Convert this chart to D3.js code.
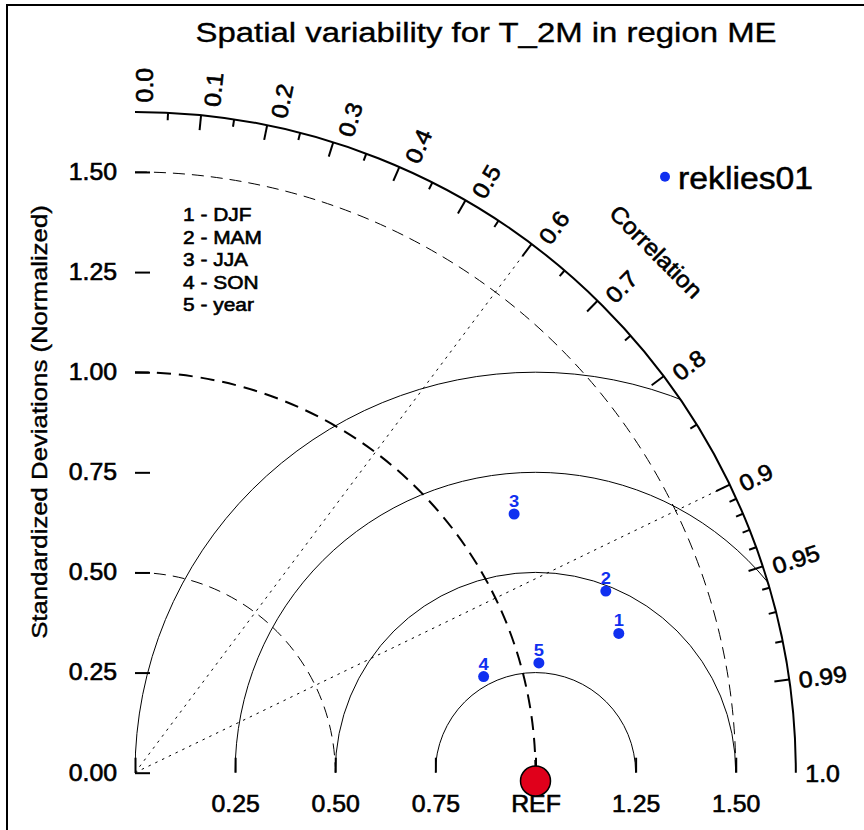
<!DOCTYPE html>
<html>
<head>
<meta charset="utf-8">
<script src="https://cdn.jsdelivr.net/npm/d3@7"></script>
<style>
  body { margin: 0; background: #fff; }
  svg { display: block; }
  text { font-family: "Liberation Sans", Arial, Helvetica, sans-serif; }
</style>
</head>
<body>
<svg id="chart" width="864" height="830"></svg>
<script>
// Seasonal statistics (normalized standard deviation and correlation vs. reference)
const seasons   = ["DJF", "MAM", "JJA", "SON", "year"];
const stdNorm   = [1.257, 1.260, 1.146, 0.903, 1.045];
const corrVals  = [0.961, 0.933, 0.826, 0.964, 0.965];
const modelName = "reklies01";

// Axis / grid definitions
const stdMax      = 1.65;
const stdTicks    = [0, 0.25, 0.5, 0.75, 1.0, 1.25, 1.5];
const corrMajor   = [0.1, 0.2, 0.3, 0.4, 0.5, 0.6, 0.7, 0.8, 0.9, 0.95, 0.99];
const corrMinor   = [0.05, 0.15, 0.25, 0.35, 0.45, 0.55, 0.65, 0.75, 0.85,
                     0.91, 0.92, 0.93, 0.94, 0.96, 0.97, 0.98];
const corrLabels  = [0.0, 0.1, 0.2, 0.3, 0.4, 0.5, 0.6, 0.7, 0.8, 0.9, 0.95, 0.99, 1.0];
const rmsRadii    = [0.25, 0.5, 0.75, 1.0];
const stdArcRadii = [0.5, 1.0, 1.5];
const corrRays    = [0.6, 0.9];
const refStd      = 1.0;

const svg = d3.select("#chart");
const W = 864, H = 830;

const ox = 135, oy = 772.7, unit = 400.5;
const x = d3.scaleLinear().domain([0, stdMax]).range([ox, ox + stdMax * unit]);
const y = d3.scaleLinear().domain([0, stdMax]).range([oy, oy - stdMax * unit]);
const R = x(stdMax) - x(0);

const blue = "#1030f0";

// frame
svg.append("path")
  .attr("d", `M7,${H} V5 H${W}`)
  .attr("fill", "none").attr("stroke", "#000").attr("stroke-width", 2);

function label(g, px, py, str, o) {
  o = o || {};
  const fill = o.fill || "#000";
  const t = g.append("text")
    .attr("transform", `translate(${px},${py}) rotate(${o.rotate || 0}) scale(${o.sx || 1},1)`)
    .attr("text-anchor", o.anchor || "start")
    .attr("font-size", o.size || 23)
    .attr("font-weight", o.weight || "normal")
    .attr("fill", fill)
    .attr("stroke", fill).attr("stroke-width", o.sw === undefined ? 0.6 : o.sw)
    .text(str);
  if (o.dy !== undefined) t.attr("y", o.dy);
  return t;
}

// title
label(svg, 486, 41.7, "Spatial variability for T_2M in region ME",
      { size: 28, anchor: "middle", sx: 1.176, sw: 0.35 });

const plot = svg.append("g");

// clip to the quarter disc
svg.append("clipPath").attr("id", "quarter")
  .append("path")
  .attr("d", () => {
    const p = d3.path();
    p.moveTo(x(0), y(0));
    p.lineTo(x(stdMax), y(0));
    p.arc(x(0), y(0), R, 0, -Math.PI / 2, true);
    p.closePath();
    return p.toString();
  });

// RMS difference circles around the reference point
const rmsG = plot.append("g").attr("clip-path", "url(#quarter)");
rmsRadii.forEach(r => {
  const p = d3.path();
  p.arc(x(refStd), y(0), x(r) - x(0), -Math.PI, 0, false);
  rmsG.append("path").attr("d", p.toString())
    .attr("fill", "none").attr("stroke", "#000").attr("stroke-width", 1);
});

// standard deviation arcs
stdArcRadii.forEach(r => {
  const p = d3.path();
  p.arc(x(0), y(0), x(r) - x(0), -Math.PI / 2, 0, false);
  const ref = r === refStd;
  plot.append("path").attr("d", p.toString())
    .attr("fill", "none").attr("stroke", "#000")
    .attr("stroke-width", ref ? 2 : 1)
    .attr("stroke-dasharray", ref ? "14,8" : "12,7");
});

// correlation rays
corrRays.forEach(c => {
  const th = Math.acos(c);
  plot.append("line")
    .attr("x1", x(0)).attr("y1", y(0))
    .attr("x2", x(stdMax * Math.cos(th))).attr("y2", y(stdMax * Math.sin(th)))
    .attr("stroke", "#000").attr("stroke-width", 1)
    .attr("stroke-dasharray", "2.5,5");
});

// outer correlation arc
{
  const p = d3.path();
  p.arc(x(0), y(0), R, -Math.PI / 2, 0, false);
  plot.append("path").attr("d", p.toString())
    .attr("fill", "none").attr("stroke", "#000").attr("stroke-width", 2);
}

// correlation ticks
function corrTick(c, len) {
  const th = Math.acos(c);
  const cx = Math.cos(th), sy = Math.sin(th);
  plot.append("line")
    .attr("x1", x(0) + R * cx).attr("y1", y(0) - R * sy)
    .attr("x2", x(0) + (R - len) * cx).attr("y2", y(0) - (R - len) * sy)
    .attr("stroke", "#000").attr("stroke-width", 2);
}
corrMajor.forEach(c => corrTick(c, 15));
corrMinor.forEach(c => corrTick(c, 7.5));

// correlation labels
const corrFmt = c => (c === 0.95 || c === 0.99) ? c.toFixed(2) : c.toFixed(1);
corrLabels.forEach(c => {
  const th = Math.acos(c);
  const rl = R + 9.5;
  const px = x(0) + rl * Math.cos(th), py = y(0) - rl * Math.sin(th);
  label(plot, px, py, corrFmt(c), {
    rotate: -th * 180 / Math.PI, sx: 1.08, size: 23,
    dy: 9 + 9 * Math.sin(th)
  });
});

// "Correlation" caption along the 45° direction
{
  const th = Math.PI / 4, rl = x(1.84) - x(0);
  label(plot, x(0) + rl * Math.cos(th), y(0) - rl * Math.sin(th), "Correlation",
        { rotate: 45, sx: 1.07, size: 23, anchor: "middle", dy: 8 });
}

// standard deviation axes
const yAxis = d3.axisLeft(y).tickValues(stdTicks)
  .tickSizeInner(-15).tickSizeOuter(0).tickPadding(18)
  .tickFormat(d3.format(".2f"));
const xAxis = d3.axisBottom(x).tickValues(stdTicks)
  .tickSizeInner(-15).tickSizeOuter(0).tickPadding(22.5)
  .tickFormat(d => d === 0 ? "" : d === refStd ? "REF" : d.toFixed(2));

function styleAxis(g) {
  g.select(".domain").remove();
  g.selectAll(".tick line").attr("stroke", "#000").attr("stroke-width", 2);
  g.selectAll(".tick text")
    .attr("fill", "#000").attr("font-size", 23)
    .attr("stroke", "#000").attr("stroke-width", 0.6)
    .attr("font-family", "Liberation Sans, Arial, sans-serif")
    .each(function () {
      const t = d3.select(this);
      const tx = +t.attr("x") || 0, ty = +t.attr("y") || 0;
      t.attr("transform", `translate(${tx},${ty}) scale(1.08,1)`).attr("x", 0).attr("y", 0);
    });
}
plot.append("g").attr("transform", `translate(${x(0)},0)`).call(yAxis).call(styleAxis);
plot.append("g").attr("transform", `translate(0,${y(0)})`).call(xAxis).call(styleAxis);

// y axis title
label(svg, 46.5, 422, "Standardized Deviations (Normalized)",
      { rotate: -90, sx: 1.12, size: 23, anchor: "middle", sw: 0.4 });

// reference marker
plot.append("circle")
  .attr("cx", x(refStd)).attr("cy", y(0) + 8.3).attr("r", 15)
  .attr("fill", "#e0001b").attr("stroke", "#000").attr("stroke-width", 1.5);

// model points
const pts = seasons.map((s, i) => {
  const th = Math.acos(corrVals[i]);
  return { i, s, px: x(stdNorm[i] * Math.cos(th)), py: y(stdNorm[i] * Math.sin(th)) };
});
const ptG = plot.append("g");
ptG.selectAll("circle").data(pts).join("circle")
  .attr("cx", d => d.px).attr("cy", d => d.py).attr("r", 5.5).attr("fill", blue);
ptG.selectAll("text").data(pts).join("text")
  .attr("transform", d => `translate(${d.px},${d.py - 7}) scale(1.08,1)`)
  .attr("text-anchor", "middle").attr("font-size", 17).attr("font-weight", "bold")
  .attr("fill", blue)
  .text(d => d.i + 1);

// season key
seasons.forEach((s, i) => {
  label(svg, 183, 221 + i * 22.5, `${i + 1} - ${s}`, { size: 19, sx: 1.1, sw: 0.6 });
});

// model legend
svg.append("circle").attr("cx", 665).attr("cy", 176.7).attr("r", 5).attr("fill", blue);
label(svg, 678, 189.3, modelName, { size: 31, sx: 1.09, sw: 0.5 });
</script>
</body>
</html>
